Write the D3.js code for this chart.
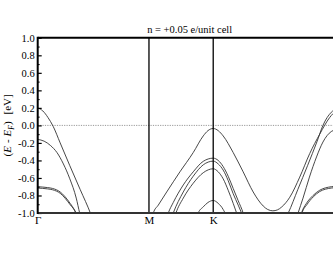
<!DOCTYPE html>
<html>
<head>
<meta charset="utf-8">
<script src="https://cdn.jsdelivr.net/npm/d3@7"></script>
<style>
  body { margin: 0; background: #fff; }
  svg text { font-family: "Liberation Serif", "Times New Roman", serif; fill: #000; }
</style>
</head>
<body>
<svg id="chart"></svg>
<script>
// high-symmetry points along the path (k in units of |MK|)
const kPoints = [0, 1.732, 2.732, 4.732];
const kLabels = ['Γ', 'M', 'K', 'Γ'];
const yTicks = [-1.0, -0.8, -0.6, -0.4, -0.2, 0.0, 0.2, 0.4, 0.6, 0.8, 1.0];
const title = 'n = +0.05 e/unit cell';

// bands around Γ (left)
const gamma1 = [[0,0.20],[0.08,0.165],[0.16,0.09],[0.24,-0.01],[0.35,-0.20],[0.5,-0.46],[0.66,-0.73],[0.83,-1.02],[0.85,-1.06]];
const gamma2 = [[0,-0.16],[0.1,-0.18],[0.2,-0.23],[0.3,-0.31],[0.4,-0.44],[0.5,-0.61],[0.6,-0.83],[0.653,-1.0],[0.67,-1.05]];
const gamma3a = [[0,-0.70],[0.155,-0.71],[0.233,-0.72],[0.35,-0.76],[0.505,-0.89],[0.575,-0.97],[0.6,-1.01],[0.62,-1.05]];
const gamma3b = [[0,-0.715],[0.155,-0.725],[0.233,-0.735],[0.35,-0.775],[0.505,-0.905],[0.59,-0.99],[0.615,-1.03]];

// bands around K
const kTop = [[1.79,-1.03],[1.80,-1.0],[1.877,-0.91],[2.008,-0.76],[2.214,-0.53],[2.421,-0.31],[2.577,-0.12],[2.65,-0.06],[2.732,-0.035],
  [2.81,-0.06],[2.887,-0.12],[3.043,-0.31],[3.198,-0.53],[3.354,-0.76],[3.51,-0.92],[3.58,-0.96],[3.66,-0.975],[3.73,-0.965],
  [3.80,-0.93],[3.924,-0.82],[4.079,-0.59],[4.235,-0.32],[4.39,-0.10],[4.545,0.09],[4.65,0.17],[4.732,0.20]];
const kMid1 = [[2.01,-1.05],[2.033,-1.0],[2.11,-0.88],[2.266,-0.68],[2.421,-0.53],[2.577,-0.41],[2.732,-0.374],
  [2.81,-0.40],[2.887,-0.47],[2.965,-0.58],[3.043,-0.72],[3.121,-0.86],[3.198,-1.0],[3.215,-1.04]];
const kMid2 = [[2.09,-1.04],[2.11,-1.0],[2.266,-0.76],[2.421,-0.58],[2.577,-0.45],[2.732,-0.408],
  [2.81,-0.44],[2.887,-0.51],[2.965,-0.63],[3.043,-0.78],[3.121,-0.91],[3.173,-1.0],[3.19,-1.03]];
const kMid3 = [[2.13,-1.05],[2.152,-1.0],[2.266,-0.83],[2.421,-0.66],[2.577,-0.54],[2.732,-0.495],
  [2.81,-0.53],[2.887,-0.61],[2.965,-0.74],[3.043,-0.89],[3.096,-1.0],[3.11,-1.03]];
const kLow = [[2.48,-1.06],[2.499,-1.0],[2.577,-0.93],[2.65,-0.88],[2.732,-0.857],[2.81,-0.89],[2.887,-0.96],[2.914,-1.0],[2.93,-1.04]];

// bands around Γ (right)
const gammaR1 = [[3.88,-1.03],[3.90,-1.0],[4.05,-0.73],[4.20,-0.46],[4.35,-0.18],[4.44,0.0],[4.57,0.15],[4.65,0.19],[4.732,0.20]];
const gammaR2 = [[4.04,-1.03],[4.053,-1.0],[4.13,-0.83],[4.23,-0.59],[4.34,-0.36],[4.44,-0.19],[4.57,-0.07],[4.732,-0.03]];
const gammaR3a = [[4.09,-1.04],[4.106,-1.0],[4.183,-0.89],[4.286,-0.80],[4.39,-0.74],[4.57,-0.70],[4.732,-0.69]];
const gammaR3b = [[4.10,-1.04],[4.115,-1.0],[4.19,-0.905],[4.29,-0.815],[4.39,-0.755],[4.57,-0.715],[4.732,-0.705]];

const bands = [gamma1, gamma2, gamma3a, gamma3b, kTop, kMid1, kMid2, kMid3, kLow, gammaR1, gammaR2, gammaR3a, gammaR3b];

const margin = { top: 37.8, left: 37.7 };
const width = 304, height = 175.2;

const svg = d3.select('#chart')
  .attr('width', 333)
  .attr('height', 258);

const chart = svg.append('g')
  .attr('transform', `translate(${margin.left},${margin.top})`);

const x = d3.scaleLinear().domain([0, 4.732]).range([0, width]);
const y = d3.scaleLinear().domain([-1, 1]).range([height, 0]);

chart.append('clipPath').attr('id', 'clip')
  .append('rect').attr('width', width).attr('height', height);

// zero line
chart.append('line')
  .attr('x1', 0).attr('x2', width)
  .attr('y1', y(0)).attr('y2', y(0))
  .attr('stroke', '#999').attr('stroke-width', 1)
  .attr('stroke-dasharray', '1.2,1.2');

const line = d3.line()
  .x(d => x(d[0]))
  .y(d => y(d[1]))
  .curve(d3.curveMonotoneX);

chart.append('g')
  .attr('clip-path', 'url(#clip)')
  .selectAll('path')
  .data(bands)
  .join('path')
  .attr('d', line)
  .attr('fill', 'none')
  .attr('stroke', '#333')
  .attr('stroke-width', 0.9);

// vertical lines at M and K
chart.selectAll('.sym')
  .data(kPoints.slice(1, 3))
  .join('line')
  .attr('class', 'sym')
  .attr('x1', d => x(d)).attr('x2', d => x(d))
  .attr('y1', 0).attr('y2', height)
  .attr('stroke', '#000').attr('stroke-width', 1.3);

// y axis: major + minor ticks pointing inward
const yAxis = d3.axisLeft(y)
  .tickValues(yTicks)
  .tickSize(-4)
  .tickPadding(3)
  .tickFormat(d => d.toFixed(1));

const yAxisG = chart.append('g').call(yAxis);
yAxisG.select('.domain').remove();
yAxisG.selectAll('text')
  .style('font-family', '"Liberation Serif", serif')
  .style('font-size', '10.5px');
yAxisG.selectAll('line').attr('stroke-width', 1.2);

const minorG = chart.append('g').call(
  d3.axisLeft(y).tickValues(d3.range(-9, 10, 2).map(v => v / 10)).tickSize(-2).tickFormat('')
);
minorG.select('.domain').remove();
minorG.selectAll('line').attr('stroke-width', 1);

// x labels (the closing Γ lies past the right edge of the window)
const xAxis = d3.axisBottom(x)
  .tickValues(kPoints.slice(0, 3))
  .tickSize(0)
  .tickPadding(3)
  .tickFormat((d, i) => kLabels[i]);

const xAxisG = chart.append('g')
  .attr('transform', `translate(0,${height})`)
  .call(xAxis);
xAxisG.select('.domain').remove();
xAxisG.selectAll('text')
  .style('font-family', '"Liberation Serif", serif')
  .style('font-size', '11px');

// frame
chart.append('line').attr('x1', 0).attr('x2', width).attr('y1', 0).attr('y2', 0)
  .attr('stroke', '#000').attr('stroke-width', 2);
chart.append('line').attr('x1', 0).attr('x2', width).attr('y1', height).attr('y2', height)
  .attr('stroke', '#333').attr('stroke-width', 2);
chart.append('line').attr('x1', 0).attr('x2', 0).attr('y1', -1).attr('y2', height + 1)
  .attr('stroke', '#000').attr('stroke-width', 2);

// title
chart.append('text')
  .attr('x', width / 2)
  .attr('y', -5)
  .attr('text-anchor', 'middle')
  .style('font-size', '10.5px')
  .text(title);

// y axis title
const yt = svg.append('text')
  .attr('transform', `translate(11,${margin.top + height / 2}) rotate(-90)`)
  .attr('text-anchor', 'middle')
  .style('font-size', '11px');
yt.append('tspan').text('(');
yt.append('tspan').style('font-style', 'italic').text('E');
yt.append('tspan').attr('dx', 3).text('-');
yt.append('tspan').attr('dx', 3).style('font-style', 'italic').text('E');
yt.append('tspan').attr('dy', 2.5).style('font-style', 'italic').style('font-size', '7.5px').text('F');
yt.append('tspan').attr('dy', -2.5).text(')');
yt.append('tspan').attr('dx', 7).text('[eV]');
</script>
</body>
</html>
